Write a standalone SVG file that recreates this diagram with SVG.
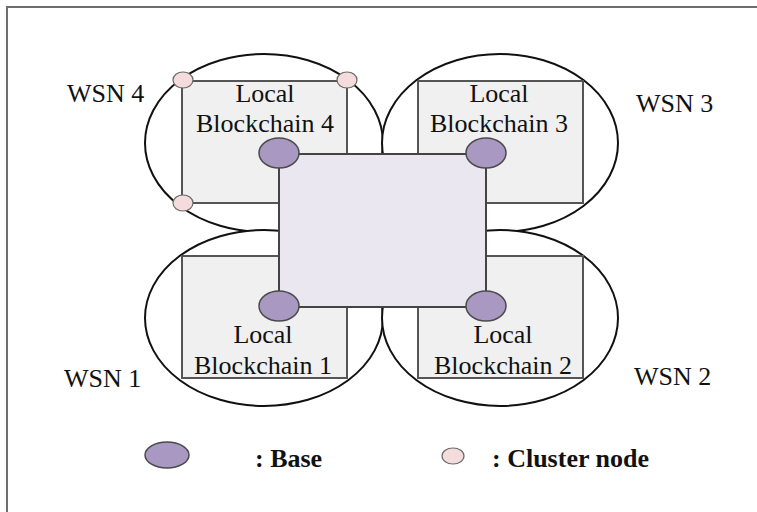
<svg xmlns="http://www.w3.org/2000/svg" width="757" height="512" viewBox="0 0 757 512">
  <style>
    .frame { fill: #ffffff; stroke: #6e6e6e; stroke-width: 2; }
    .wsn { fill: #ffffff; stroke: #111111; stroke-width: 2; }
    .chain { fill: #f0f0f0; stroke: #555555; stroke-width: 2; }
    .core { fill: #ebe7f0; stroke: #444444; stroke-width: 2; }
    .base { fill: #a898c2; stroke: #4a4a4a; stroke-width: 1.5; }
    .cluster { fill: #f3dcdb; stroke: #6a6a6a; stroke-width: 1.2; }
    .lbl { font-family: "Liberation Serif", "Times New Roman", serif; font-size: 26px; fill: #111111; }
    .mid { text-anchor: middle; }
    .leg { font-family: "Liberation Serif", "Times New Roman", serif; font-size: 26px; font-weight: bold; fill: #111111; }
  </style>

  <rect class="frame" x="7" y="7" width="800" height="600"/>

  <!-- sensor network regions -->
  <g id="wsn4"><ellipse class="wsn" cx="264" cy="143" rx="119" ry="89"/></g>
  <g id="wsn3"><ellipse class="wsn" cx="500" cy="143" rx="118" ry="89"/></g>
  <g id="wsn1"><ellipse class="wsn" cx="264" cy="318" rx="119" ry="88"/></g>
  <g id="wsn2"><ellipse class="wsn" cx="500" cy="318" rx="118" ry="88"/></g>

  <!-- local blockchains -->
  <g id="chain4">
    <rect class="chain" x="182" y="81" width="165" height="122"/>
    <text class="lbl mid" x="265" y="102">Local</text>
    <text class="lbl mid" x="265" y="132">Blockchain 4</text>
  </g>
  <g id="chain3">
    <rect class="chain" x="418" y="81" width="165" height="122"/>
    <text class="lbl mid" x="499" y="102">Local</text>
    <text class="lbl mid" x="499" y="132">Blockchain 3</text>
  </g>
  <g id="chain1">
    <rect class="chain" x="182" y="256" width="165" height="122"/>
    <text class="lbl mid" x="263" y="343">Local</text>
    <text class="lbl mid" x="263" y="374">Blockchain 1</text>
  </g>
  <g id="chain2">
    <rect class="chain" x="418" y="256" width="165" height="122"/>
    <text class="lbl mid" x="503" y="343">Local</text>
    <text class="lbl mid" x="503" y="374">Blockchain 2</text>
  </g>

  <!-- shared core linking the base stations -->
  <g id="connectors">
    <rect class="core" x="279" y="154" width="207" height="153"/>
  </g>

  <!-- base stations -->
  <g id="base4"><ellipse class="base" cx="279" cy="153" rx="20" ry="15"/></g>
  <g id="base3"><ellipse class="base" cx="486" cy="153" rx="20" ry="15"/></g>
  <g id="base1"><ellipse class="base" cx="279" cy="306" rx="20" ry="15"/></g>
  <g id="base2"><ellipse class="base" cx="486" cy="306" rx="20" ry="15"/></g>

  <!-- cluster nodes -->
  <g id="cluster-a"><ellipse class="cluster" cx="183" cy="80" rx="10" ry="8"/></g>
  <g id="cluster-b"><ellipse class="cluster" cx="347" cy="80" rx="10" ry="8"/></g>
  <g id="cluster-c"><ellipse class="cluster" cx="183" cy="203" rx="10" ry="8"/></g>

  <!-- network names -->
  <text class="lbl" x="67" y="102">WSN 4</text>
  <text class="lbl" x="636" y="112">WSN 3</text>
  <text class="lbl" x="64" y="387">WSN 1</text>
  <text class="lbl" x="634" y="385">WSN 2</text>

  <!-- legend -->
  <g id="legend">
    <ellipse class="base" cx="167" cy="455" rx="22" ry="13"/>
    <text class="leg" x="255" y="467">: Base</text>
    <ellipse class="cluster" cx="453" cy="456" rx="11" ry="8"/>
    <text class="leg" x="492" y="467">: Cluster node</text>
  </g>
</svg>
